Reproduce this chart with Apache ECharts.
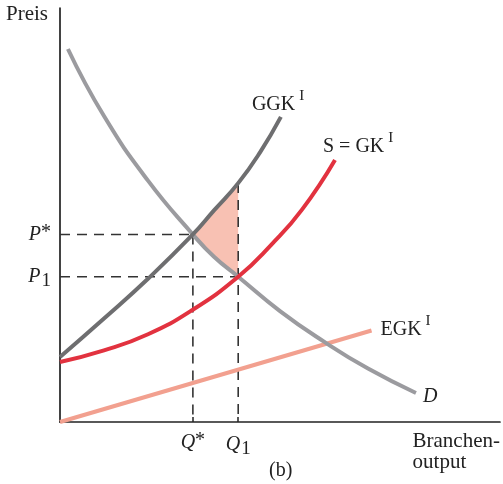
<!DOCTYPE html>
<html>
<head>
<meta charset="utf-8">
<script src="https://cdn.jsdelivr.net/npm/echarts@6/dist/echarts.min.js"></script>
<style>
  html, body { margin: 0; padding: 0; background: #ffffff; }
  #chart { width: 503px; height: 484px; }
</style>
</head>
<body>
<div id="chart"></div>
<script>
// Branche: Nachfrage, Grenzkosten und externe Grenzkosten (Indexwerte 0–100)
const demandX = [1.8, 10, 20, 30.2, 35.0, 40.5, 50, 60, 70, 80.9];
const demandY = [90.1, 73.9, 58.3, 45.3, 39.9, 35.1, 26.8, 19.4, 12.9, 7.0];

const socialCostX = [0, 10, 20, 30.2, 35.0, 40.5, 45.5, 50.2];
const socialCostY = [15.7, 25.0, 34.6, 45.3, 51.1, 57.7, 65.2, 73.7];

const privateCostX = [0, 10, 20, 30, 40.5, 48, 55, 62.5];
const privateCostY = [14.5, 17.3, 21.2, 27.0, 35.1, 42.8, 51.3, 63.3];

const externalCostX = [0, 70.8];
const externalCostY = [0, 22.1];

// Gleichgewichte
const qStar = 30.2, pStar = 45.3;
const q1 = 40.5, p1 = 35.1;
const socialAtQ1 = 57.7;

const SERIF = '"Liberation Serif", "DejaVu Serif", serif';
const INK = '#222222';

function pairs(xs, ys) { return xs.map((x, i) => [x, ys[i]]); }

const curveRich = {
  t: { fontFamily: SERIF, fontSize: 20, color: INK, lineHeight: 26, verticalAlign: 'bottom' },
  it: { fontFamily: SERIF, fontSize: 20, fontStyle: 'italic', color: INK },
  sup: { fontFamily: SERIF, fontSize: 15, color: INK, lineHeight: 16, verticalAlign: 'top', padding: [0, 0, 0, 4] }
};

function endLabel(text, offset) {
  return { show: true, distance: 0, offset: offset, formatter: text, rich: curveRich };
}

// Wohlfahrtsverlust: zwischen GGK und D von Q* bis Q1
const lossUpper = pairs(socialCostX, socialCostY).filter(p => p[0] >= qStar && p[0] <= q1);
const lossLower = pairs(demandX, demandY).filter(p => p[0] >= qStar && p[0] <= q1).reverse();
const lossPolygon = lossUpper.concat(lossLower);

function dashed(points) {
  return {
    type: 'line', data: points, symbol: 'none', silent: true, z: 3,
    lineStyle: { color: '#333333', width: 1.6, type: [10, 7] }
  };
}

const axisRich = {
  it: { fontFamily: SERIF, fontSize: 20, fontStyle: 'italic', color: INK },
  t: { fontFamily: SERIF, fontSize: 20, color: INK, padding: [0, 0, 4, 0] },
  sub: { fontFamily: SERIF, fontSize: 19, color: INK, padding: [9, 0, 0, 1] }
};

const chart = echarts.init(document.getElementById('chart'), null, { renderer: 'canvas' });

chart.setOption({
  animation: false,
  backgroundColor: '#ffffff',
  grid: { left: 60, right: 3, top: 8, bottom: 62 },
  xAxis: {
    type: 'value', min: 0, max: 100,
    axisLine: { show: true, onZero: false, lineStyle: { color: INK, width: 1.7 } },
    splitLine: { show: false },
    axisTick: { show: true, inside: true, length: 5, customValues: [qStar, q1], lineStyle: { color: INK, width: 1.5 } },
    axisLabel: {
      show: true, customValues: [qStar, q1], margin: 9,
      formatter: v => (v === qStar ? '{it|Q}{t|*}' : '{it|Q}{sub|1}'),
      rich: axisRich
    }
  },
  yAxis: {
    type: 'value', min: 0, max: 100,
    axisLine: { show: true, onZero: false, lineStyle: { color: INK, width: 1.7 } },
    splitLine: { show: false },
    axisTick: { show: false },
    axisLabel: {
      show: true, customValues: [pStar, p1], margin: 9,
      formatter: v => (v === pStar ? '{it|P}{t|*}' : '{it|P}{sub|1}'),
      rich: axisRich
    }
  },
  graphic: [
    { type: 'text', left: 6, top: 4, style: { text: 'Preis', font: '21px ' + SERIF, fill: INK } },
    { type: 'text', right: 3, top: 431, style: { text: 'Branchen-\noutput', font: '21px ' + SERIF, fill: INK, align: 'right', lineHeight: 21 } },
    { type: 'text', left: 269, top: 461, style: { text: '(b)', font: '20px ' + SERIF, fill: INK } }
  ],
  series: [
    {
      type: 'custom', silent: true, z: 1,
      data: [0],
      renderItem: (params, api) => ({
        type: 'polygon',
        shape: { points: lossPolygon.map(p => api.coord(p)) },
        style: { fill: '#f8c1b3' }
      })
    },
    dashed([[0, pStar], [qStar, pStar]]),
    dashed([[0, p1], [q1, p1]]),
    dashed([[qStar, pStar], [qStar, 0]]),
    dashed([[q1, socialAtQ1], [q1, 0]]),
    {
      name: 'EGK', type: 'line', symbol: 'none', z: 5,
      lineStyle: { color: '#f2a08f', width: 4 },
      data: pairs(externalCostX, externalCostY),
      endLabel: endLabel('{t|EGK}{sup|I}', [9, -4])
    },
    {
      name: 'D', type: 'line', symbol: 'none', z: 6, smooth: 0.5,
      lineStyle: { color: '#9b9b9f', width: 4 },
      data: pairs(demandX, demandY),
      endLabel: endLabel('{it|D}', [7, 4])
    },
    {
      name: 'S = GK', type: 'line', symbol: 'none', z: 7, smooth: 0.5,
      lineStyle: { color: '#e2323f', width: 4 },
      data: pairs(privateCostX, privateCostY),
      endLabel: endLabel('{t|S = GK}{sup|I}', [-12, -16])
    },
    {
      name: 'GGK', type: 'line', symbol: 'none', z: 8, smooth: 0.5,
      lineStyle: { color: '#6e6e70', width: 4 },
      data: pairs(socialCostX, socialCostY),
      endLabel: endLabel('{t|GGK}{sup|I}', [-29, -15])
    }
  ]
});
</script>
</body>
</html>
